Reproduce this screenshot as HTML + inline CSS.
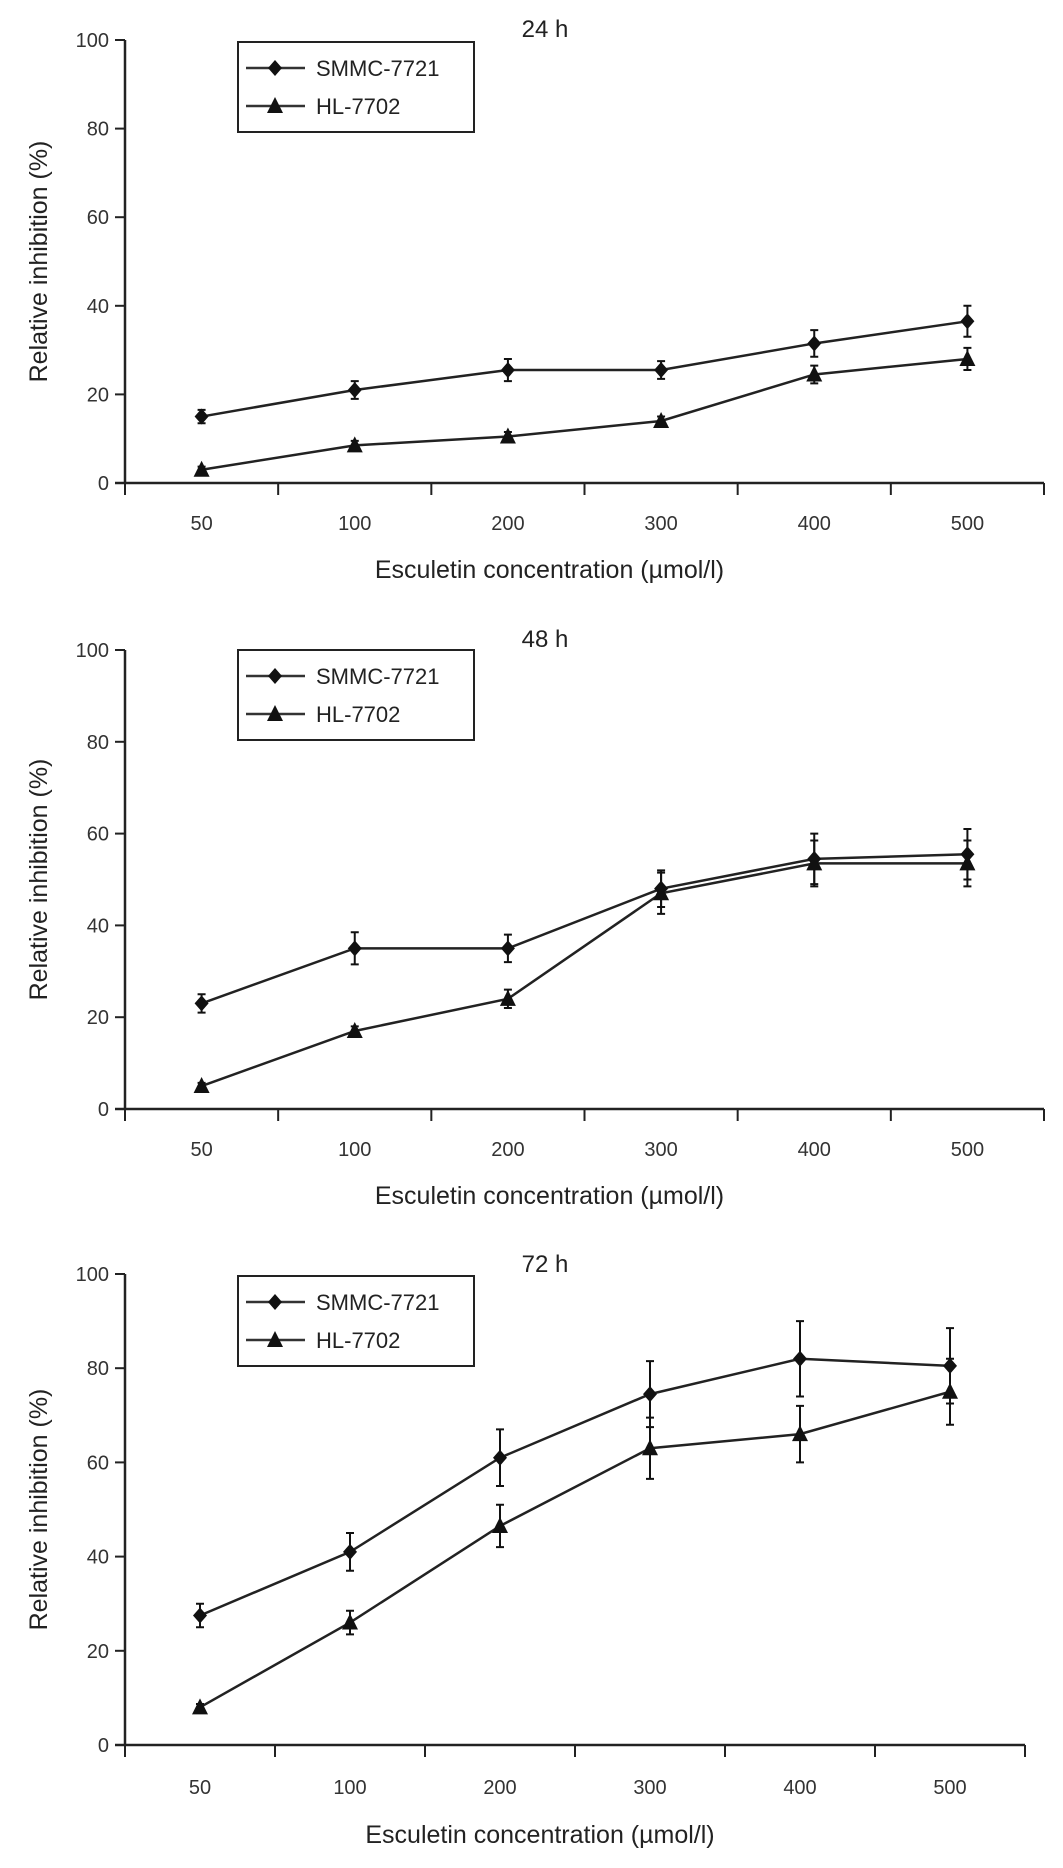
<!DOCTYPE html>
<html><head><meta charset="utf-8"><style>
html,body{margin:0;padding:0;background:#fff;}
svg{display:block;font-family:"Liberation Sans",sans-serif;}
</style></head><body>
<svg id="chart" width="1063" height="1868" viewBox="0 0 1063 1868" xmlns="http://www.w3.org/2000/svg"></svg>
<script>
const categories = ["50","100","200","300","400","500"];
const yTicks = [0,20,40,60,80,100];
const panelTitles = ["24 h","48 h","72 h"];
const smmc24 = [15,21,25.5,25.5,31.5,36.5];
const smmc24Err = [1.5,2,2.5,2,3,3.5];
const hl24 = [3,8.5,10.5,14,24.5,28];
const hl24Err = [0.7,1,1,1,2,2.5];
const smmc48 = [23,35,35,48,54.5,55.5];
const smmc48Err = [2,3.5,3,4,5.5,5.5];
const hl48 = [5,17,24,47,53.5,53.5];
const hl48Err = [0.7,1,2,4.5,5,5];
const smmc72 = [27.5,41,61,74.5,82,80.5];
const smmc72Err = [2.5,4,6,7,8,8];
const hl72 = [8,26,46.5,63,66,75];
const hl72Err = [0.7,2.5,4.5,6.5,6,7];

const svg = document.getElementById('chart');
const NS = 'http://www.w3.org/2000/svg';
function mk(tag, attrs, parent){const e=document.createElementNS(NS,tag);for(const k in attrs)e.setAttribute(k,attrs[k]);(parent||svg).appendChild(e);return e;}

const layouts = [
 {x0:125,x1:1044,yTop:40,yBot:483,titleY:37,tickY:530,xtitleY:578,legY:42},
 {x0:125,x1:1044,yTop:650,yBot:1109,titleY:647,tickY:1156,xtitleY:1204,legY:650},
 {x0:125,x1:1025,yTop:1274,yBot:1745,titleY:1272,tickY:1794,xtitleY:1843,legY:1276}
];
const dataSets = [
 [smmc24,smmc24Err,hl24,hl24Err],
 [smmc48,smmc48Err,hl48,hl48Err],
 [smmc72,smmc72Err,hl72,hl72Err]
];

function diamond(g,cx,cy){const p=mk('polygon',{points:`${cx},${cy-8} ${cx+7},${cy} ${cx},${cy+8} ${cx-7},${cy}`,fill:'#111'},g);}
function tri(g,cx,cy){const p=mk('polygon',{points:`${cx},${cy-9} ${cx+8},${cy+7} ${cx-8},${cy+7}`,fill:'#111'},g);}

layouts.forEach((L,pi)=>{
  const g=mk('g',{});
  
  
  const n=categories.length, bw=(L.x1-L.x0)/n;
  const xs=i=>L.x0+bw*(i+0.5);
  const ys=v=>L.yBot-(L.yBot-L.yTop)*v/100;
  const t=mk('text',{x:545,y:L.titleY,'font-size':24,'text-anchor':'middle',fill:'#222'},g);t.textContent=panelTitles[pi];
  
  const ya=mk('line',{x1:L.x0,y1:L.yTop,x2:L.x0,y2:L.yBot,stroke:'#222','stroke-width':2.5},g);
  
  const xa=mk('line',{x1:L.x0-10,y1:L.yBot,x2:L.x1,y2:L.yBot,stroke:'#222','stroke-width':2.5},g);
  
  yTicks.forEach(v=>{
    mk('line',{x1:L.x0-10,y1:ys(v),x2:L.x0,y2:ys(v),stroke:'#222','stroke-width':2},g);
    const tl=mk('text',{x:L.x0-16,y:ys(v)+7,'font-size':20,'text-anchor':'end',fill:'#333'},g);tl.textContent=v;
    
  });
  for(let i=0;i<=n;i++){mk('line',{x1:L.x0+bw*i,y1:L.yBot,x2:L.x0+bw*i,y2:L.yBot+12,stroke:'#222','stroke-width':2},g);}
  categories.forEach((c,i)=>{
    const tl=mk('text',{x:xs(i),y:L.tickY,'font-size':20,'text-anchor':'middle',fill:'#333'},g);tl.textContent=c;
    
  });
  const xt=mk('text',{x:(L.x0+L.x1)/2-35,y:L.xtitleY,'font-size':25,'text-anchor':'middle',fill:'#222'},g);xt.textContent='Esculetin concentration (\u00b5mol/l)';
  
  const yc=(L.yTop+L.yBot)/2;
  const yt=mk('text',{x:0,y:0,'font-size':25,'text-anchor':'middle',fill:'#222',transform:`translate(47,${yc}) rotate(-90)`},g);yt.textContent='Relative inhibition (%)';
  
  const [s,se,h,he]=dataSets[pi];
  [[s,se,diamond,'smmc'],[h,he,tri,'hl']].forEach(([vals,errs,mark,nm])=>{
    const pl=mk('polyline',{points:vals.map((v,i)=>xs(i)+','+ys(v)).join(' '),fill:'none',stroke:'#222','stroke-width':2.5},g);
    
    vals.forEach((v,i)=>{
      const x=xs(i),a=ys(v+errs[i]),b=ys(v-errs[i]);
      const eb=mk('path',{d:`M${x},${a}V${b}M${x-4},${a}H${x+4}M${x-4},${b}H${x+4}`,stroke:'#111','stroke-width':2,fill:'none'},g);
      
      mark(g,x,ys(v));
    });
  });
  const lg=mk('g',{},g);
  mk('rect',{x:238,y:L.legY,width:236,height:90,fill:'#fff',stroke:'#222','stroke-width':2},lg);
  [['SMMC-7721',diamond],['HL-7702',tri]].forEach(([lab,mark],k)=>{
    const cy=L.legY+26+k*38;
    mk('line',{x1:246,y1:cy,x2:305,y2:cy,stroke:'#333','stroke-width':2.5},lg);
    mark(lg,275,cy);
    const tx=mk('text',{x:316,y:cy+8,'font-size':22,fill:'#222'},lg);tx.textContent=lab;
    
  });
});
</script>
</body></html>
